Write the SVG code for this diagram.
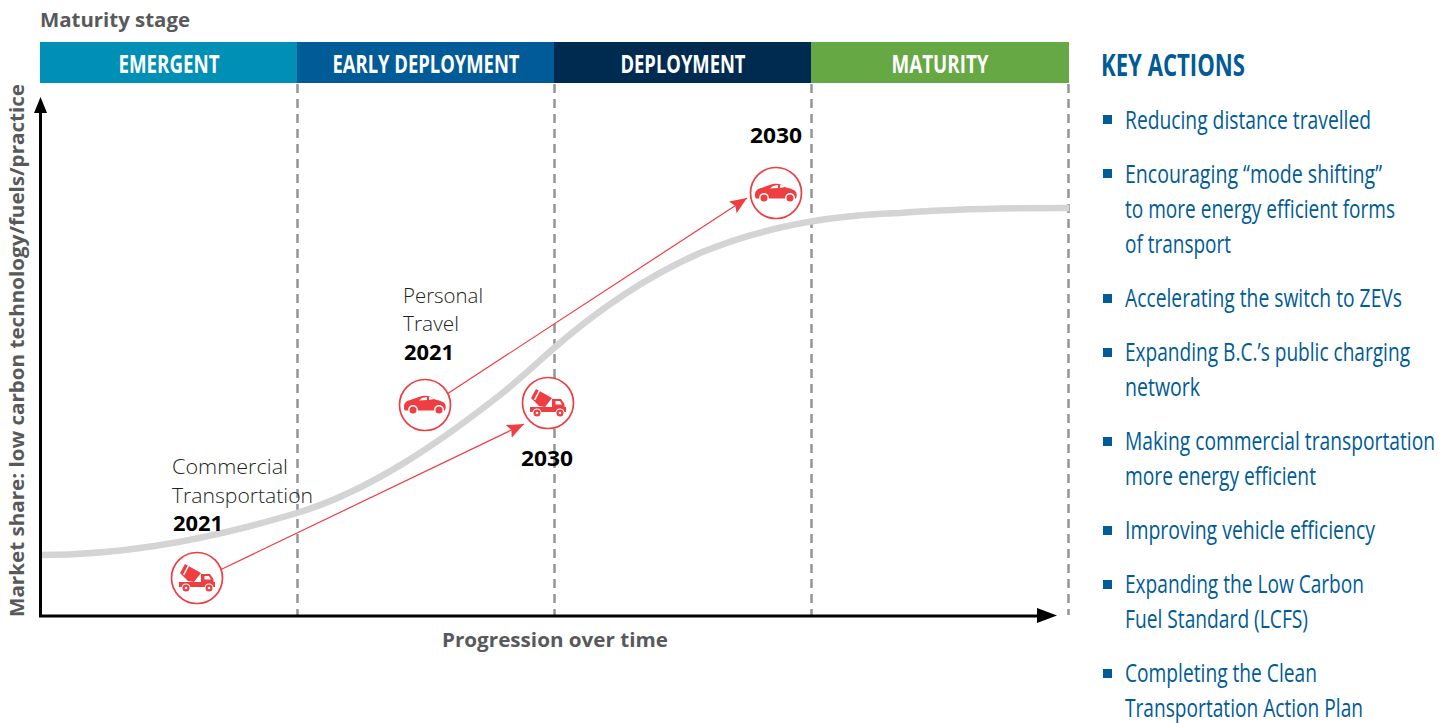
<svg xmlns="http://www.w3.org/2000/svg" width="1454" height="723" viewBox="0 0 1454 723">
<style>
.hd{font:700 25px "Open Sans",sans-serif;fill:#fff;text-anchor:middle}
.ax{font:700 20px "Open Sans",sans-serif;fill:#58595b}
.lb{font:300 21px "Open Sans",sans-serif;fill:#231f20}
.yr{font:700 21px "Open Sans",sans-serif;fill:#000}
.ka{font:400 25px "Open Sans",sans-serif;fill:#005b96}
.kt{font:700 31px "Open Sans",sans-serif;fill:#005b96}
.dash{stroke:#939598;stroke-width:2.5;stroke-dasharray:9 6;fill:none}
.red{stroke:#ef3e42;stroke-width:1.2;fill:none}
.ring{stroke:#ef3e42;stroke-width:1.7;fill:#fff}
.ic{fill:#ef3e42}
.wh{fill:#fff}
.bul{fill:#005b96}
</style>
<defs>
<marker id="ra" markerUnits="userSpaceOnUse" markerWidth="20" markerHeight="16" refX="17" refY="7" orient="auto"><path d="M0 0L17 7L0 14L3 7Z" fill="#ef3e42"/></marker>
<g id="car">
<path class="ic" d="M-21 2C-21 -2-19 -4-15 -5C-11 -6-7 -8-3 -9C2 -10 6 -9 10 -5.500C15 -4.500 19 -3 20 -1C21 1 21 3 20 5.500L-20 5.500C-21 5-21 4-21 2Z"/>
<circle class="wh" cx="-12" cy="5" r="5"/><circle class="wh" cx="14" cy="5" r="5"/>
<circle class="ic" cx="-12" cy="5" r="3.500"/><circle class="ic" cx="14" cy="5" r="3.500"/>
<path class="wh" d="M-3 -7L2 -8L2 -5L-6 -4.500ZM4 -8C6 -8 8 -7.500 9 -6L4 -5Z"/>
</g>
<g id="truck">
<path class="ic" d="M-17 -5L-12 -14L4 -5L-3 4L-9 3Z"/>
<path class="wh" d="M-9 -13L-14 -3.500L-12.700 -2.800L-7.700 -12.300Z"/>
<path class="ic" d="M4 -4H13L16.500 1V5H4Z"/>
<path class="wh" d="M7.500 -2H12L14 1.500H7.500Z"/>
<rect class="ic" x="-18" y="4" width="36" height="5"/>
<circle class="wh" cx="-11" cy="10" r="4.500"/><circle class="wh" cx="12" cy="10" r="4.500"/>
<circle class="ic" cx="-11" cy="10" r="3.500"/><circle class="ic" cx="12" cy="10" r="3.500"/>
<circle class="wh" cx="-11" cy="10" r="1.300"/><circle class="wh" cx="12" cy="10" r="1.300"/>
</g>
</defs>
<text class="ax" x="40" y="27" textLength="150" lengthAdjust="spacingAndGlyphs">Maturity stage</text>
<g id="stage-emergent"><rect x="40" y="42" width="257" height="41" fill="#0090b5"/><text class="hd" x="169" y="73" textLength="101" lengthAdjust="spacingAndGlyphs">EMERGENT</text></g>
<g id="stage-early"><rect x="297" y="42" width="257" height="41" fill="#005b96"/><text class="hd" x="426" y="73" textLength="187" lengthAdjust="spacingAndGlyphs">EARLY DEPLOYMENT</text></g>
<g id="stage-deployment"><rect x="554" y="42" width="257" height="41" fill="#002b50"/><text class="hd" x="683" y="73" textLength="125" lengthAdjust="spacingAndGlyphs">DEPLOYMENT</text></g>
<g id="stage-maturity"><rect x="811" y="42" width="258" height="41" fill="#65a844"/><text class="hd" x="940" y="73" textLength="97" lengthAdjust="spacingAndGlyphs">MATURITY</text></g>
<g id="connectors">
<path class="dash" d="M297.500 84V615M554.500 84V615M811.500 84V615M1068.500 84V615"/>
<path d="M40 555C110 555 190 545 297 513C370 491 440 442 500 395C520 379 537 363 554 348C600 308 650 275 700 253C760 228 830 215 900 213C950 209 1010 208 1069 208" fill="none" stroke="#d4d4d4" stroke-width="6.500"/>
<path d="M40.500 112V616H1040" fill="none" stroke="#000" stroke-width="3"/>
<path d="M40.500 97L47 113H34Z"/>
<path d="M1057 615.500L1037 608V623Z"/>
<path class="red" d="M220 570L524 424" marker-end="url(#ra)"/>
<path class="red" d="M447 394L747 198" marker-end="url(#ra)"/>
</g>
<g id="node-commercial-2021"><circle class="ring" cx="197" cy="578" r="25.500"/><use href="#truck" transform="translate(197 578)"/></g>
<g id="node-commercial-2030"><circle class="ring" cx="548" cy="403" r="25.500"/><use href="#truck" transform="translate(548 403)"/></g>
<g id="node-personal-2021"><circle class="ring" cx="425" cy="405" r="25.500"/><use href="#car" transform="translate(425 405)"/></g>
<g id="node-personal-2030"><circle class="ring" cx="776" cy="193" r="25.500"/><use href="#car" transform="translate(776 193)"/></g>
<text class="lb" x="172" y="474" textLength="116" lengthAdjust="spacingAndGlyphs">Commercial</text>
<text class="lb" x="172" y="503" textLength="141" lengthAdjust="spacingAndGlyphs">Transportation</text>
<text class="yr" x="173" y="531" textLength="50" lengthAdjust="spacingAndGlyphs">2021</text>
<text class="lb" x="403" y="303" textLength="80" lengthAdjust="spacingAndGlyphs">Personal</text>
<text class="lb" x="403" y="331" textLength="56" lengthAdjust="spacingAndGlyphs">Travel</text>
<text class="yr" x="404" y="360" textLength="50" lengthAdjust="spacingAndGlyphs">2021</text>
<text class="yr" x="521" y="466" textLength="52" lengthAdjust="spacingAndGlyphs">2030</text>
<text class="yr" x="750" y="143" textLength="52" lengthAdjust="spacingAndGlyphs">2030</text>
<text class="ax" transform="translate(24 617) rotate(-90)" textLength="533" lengthAdjust="spacingAndGlyphs">Market share: low carbon technology/fuels/practice</text>
<text class="ax" x="442" y="647" textLength="226" lengthAdjust="spacingAndGlyphs">Progression over time</text>
<g id="key-actions">
<text class="kt" transform="translate(1101 76) scale(.76 1)" textLength="189.500" lengthAdjust="spacingAndGlyphs">KEY ACTIONS</text>
<g class="bul"><rect x="1103" y="115" width="9" height="9"/><rect x="1103" y="169" width="9" height="9"/><rect x="1103" y="294" width="9" height="9"/><rect x="1103" y="348" width="9" height="9"/><rect x="1103" y="437" width="9" height="9"/><rect x="1103" y="526" width="9" height="9"/><rect x="1103" y="580" width="9" height="9"/><rect x="1103" y="669" width="9" height="9"/></g>
<text class="ka" transform="translate(1125 129) scale(.76 1)" textLength="323.700" lengthAdjust="spacingAndGlyphs">Reducing distance travelled</text>
<text class="ka" transform="translate(1125 183) scale(.76 1)" textLength="338.200" lengthAdjust="spacingAndGlyphs">Encouraging “mode shifting”</text>
<text class="ka" transform="translate(1125 218) scale(.76 1)" textLength="355.300" lengthAdjust="spacingAndGlyphs">to more energy efficient forms</text>
<text class="ka" transform="translate(1125 253) scale(.76 1)" textLength="139.500" lengthAdjust="spacingAndGlyphs">of transport</text>
<text class="ka" transform="translate(1125 307) scale(.76 1)" textLength="364.500" lengthAdjust="spacingAndGlyphs">Accelerating the switch to ZEVs</text>
<text class="ka" transform="translate(1125 361) scale(.76 1)" textLength="375" lengthAdjust="spacingAndGlyphs">Expanding B.C.’s public charging</text>
<text class="ka" transform="translate(1125 396) scale(.76 1)" textLength="98.700" lengthAdjust="spacingAndGlyphs">network</text>
<text class="ka" transform="translate(1125 450) scale(.76 1)" textLength="407.900" lengthAdjust="spacingAndGlyphs">Making commercial transportation</text>
<text class="ka" transform="translate(1125 485) scale(.76 1)" textLength="251.300" lengthAdjust="spacingAndGlyphs">more energy efficient</text>
<text class="ka" transform="translate(1125 539) scale(.76 1)" textLength="328.900" lengthAdjust="spacingAndGlyphs">Improving vehicle efficiency</text>
<text class="ka" transform="translate(1125 593) scale(.76 1)" textLength="314.500" lengthAdjust="spacingAndGlyphs">Expanding the Low Carbon</text>
<text class="ka" transform="translate(1125 628) scale(.76 1)" textLength="240.800" lengthAdjust="spacingAndGlyphs">Fuel Standard (LCFS)</text>
<text class="ka" transform="translate(1125 682) scale(.76 1)" textLength="252.600" lengthAdjust="spacingAndGlyphs">Completing the Clean</text>
<text class="ka" transform="translate(1125 717) scale(.76 1)" textLength="313.200" lengthAdjust="spacingAndGlyphs">Transportation Action Plan</text>
</g>
</svg>
